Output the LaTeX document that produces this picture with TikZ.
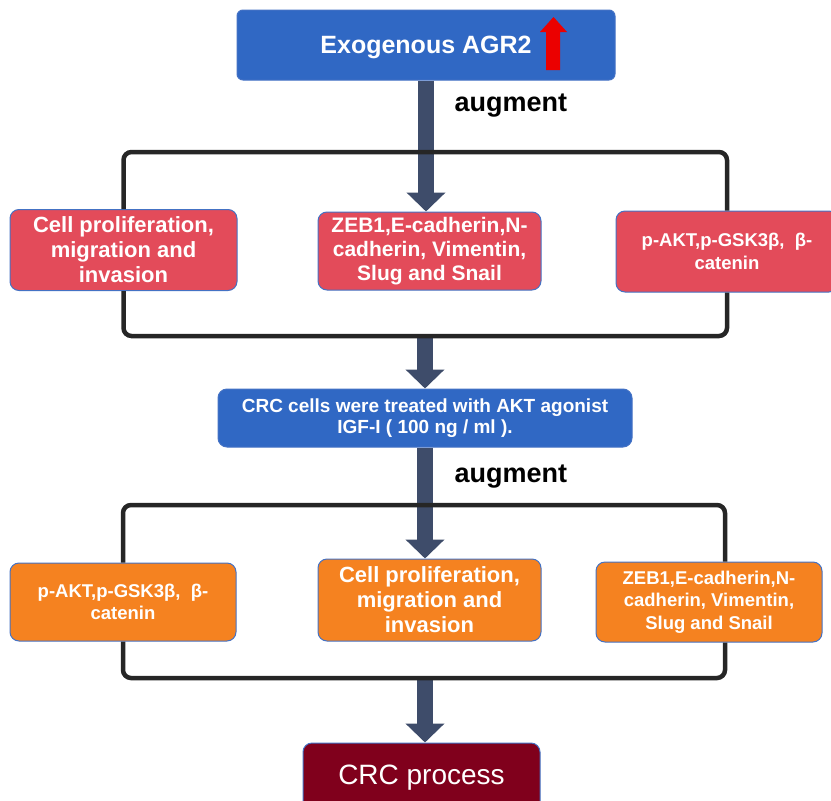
\documentclass[tikz,border=0pt]{standalone}
\usepackage{fontspec}
\setmainfont{Liberation Sans}
\usetikzlibrary{arrows.meta,positioning,calc}
\definecolor{boxblue}{RGB}{48,104,196}
\definecolor{boxred}{RGB}{227,75,90}
\definecolor{boxorange}{RGB}{245,130,32}
\definecolor{boxwine}{RGB}{128,0,28}
\definecolor{edgeblue}{RGB}{68,114,196}
\definecolor{slate}{RGB}{62,76,106}
\definecolor{upred}{RGB}{235,0,0}

\begin{document}
\begin{tikzpicture}[x=1pt,y=-1pt,
        box/.style={rounded corners=9pt, draw=edgeblue, line width=1pt, text=white, align=center, inner sep=0pt},
        redbox/.style={box, fill=boxred},
        orangebox/.style={box, fill=boxorange},
        bigtxt/.style={font=\bfseries\fontsize{22}{25}\selectfont},
        midtxt/.style={font=\bfseries\fontsize{21}{24}\selectfont},
        smalltxt/.style={font=\bfseries\fontsize{18.5}{22.5}\selectfont},
        fatarrow/.style={draw=slate, line width=16pt, -{Triangle[width=38pt,length=19pt]}},
        bracket/.style={draw=black!85, line width=4.5pt, rounded corners=8pt},
        lbl/.style={font=\bfseries\fontsize{27}{30}\selectfont, anchor=west}]
        \useasboundingbox (0,0) rectangle (831,801);
        % top box
        \node[box, fill=boxblue, rounded corners=6pt, minimum width=378pt, minimum height=70pt] (agr) at (426,45) {};
        \node[font=\bfseries\fontsize{25}{28}\selectfont, text=white] (agrtxt) at (426,47) {Exogenous AGR2};
        \fill[upred] (546,70) -- (546,32) -- (540,32) -- (553.5,17) -- (567,32) -- (560,32) -- (560,70) -- cycle;
        % first row
        \node[redbox, bigtxt, minimum width=227pt, minimum height=81pt] (prolA) at (123.5,250) {Cell proliferation,\\ migration and\\ invasion};
        \node[redbox, midtxt, minimum width=223pt, minimum height=78pt] (emtA) at (429.5,251) {ZEB1,E-cadherin,N-\\ cadherin, Vimentin,\\ Slug and Snail};
        \node[redbox, smalltxt, minimum width=222pt, minimum height=81pt] (aktA) at (727,251.5) {p-AKT,p-GSK3β,~~β-\\ catenin};
        % treatment
        \node[box, fill=boxblue, font=\bfseries\fontsize{19}{21}\selectfont, minimum width=414pt, minimum height=58pt] (igf) at (425,418) {CRC cells were treated with AKT agonist\\ IGF-I ( 100 ng / ml ).};
        % second row
        \node[orangebox, smalltxt, minimum width=226pt, minimum height=78pt] (aktB) at (123,602) {p-AKT,p-GSK3β,~~β-\\ catenin};
        \node[orangebox, bigtxt, minimum width=223pt, minimum height=82pt] (prolB) at (429.5,600) {Cell proliferation,\\ migration and\\ invasion};
        \node[orangebox, smalltxt, minimum width=226pt, minimum height=80pt] (emtB) at (709,602) {ZEB1,E-cadherin,N-\\ cadherin, Vimentin,\\ Slug and Snail};
        % end
        \node[box, fill=boxwine, font=\fontsize{28}{30}\selectfont, minimum width=237pt, minimum height=70pt] (crc) at (421.5,778) {CRC process};
        % labels
        \node[lbl] (aug1) at (451,106) {augment};
        \node[lbl] (aug2) at (451,477) {augment};
        % brackets
        \coordinate (brk1top) at (425,152);
        \coordinate (brk1bot) at (425,336);
        \coordinate (brk2top) at (725,505);
        \coordinate (brk2bot) at (725,678);
        \coordinate (brk2mid) at (425,678);
        % arrows
        \draw[fatarrow] (agr.south) -- (agr.south |- emtA.north);
        \draw[fatarrow] (brk1bot) -- (igf.north);
        \draw[fatarrow] (igf.south) -- (igf.south |- prolB.north);
        \draw[fatarrow] (brk2mid) -- (brk2mid |- crc.north);
        \draw[bracket] (prolA.north) |- (brk1top) -| (aktA.north);
        \draw[bracket] (prolA.south) |- (brk1bot) -| (aktA.south);
        \draw[bracket] (aktB.north) |- (brk2top) -- (brk2top |- emtB.north);
        \draw[bracket] (aktB.south) |- (brk2bot) -- (brk2bot |- emtB.south);
\end{tikzpicture}
\end{document}
